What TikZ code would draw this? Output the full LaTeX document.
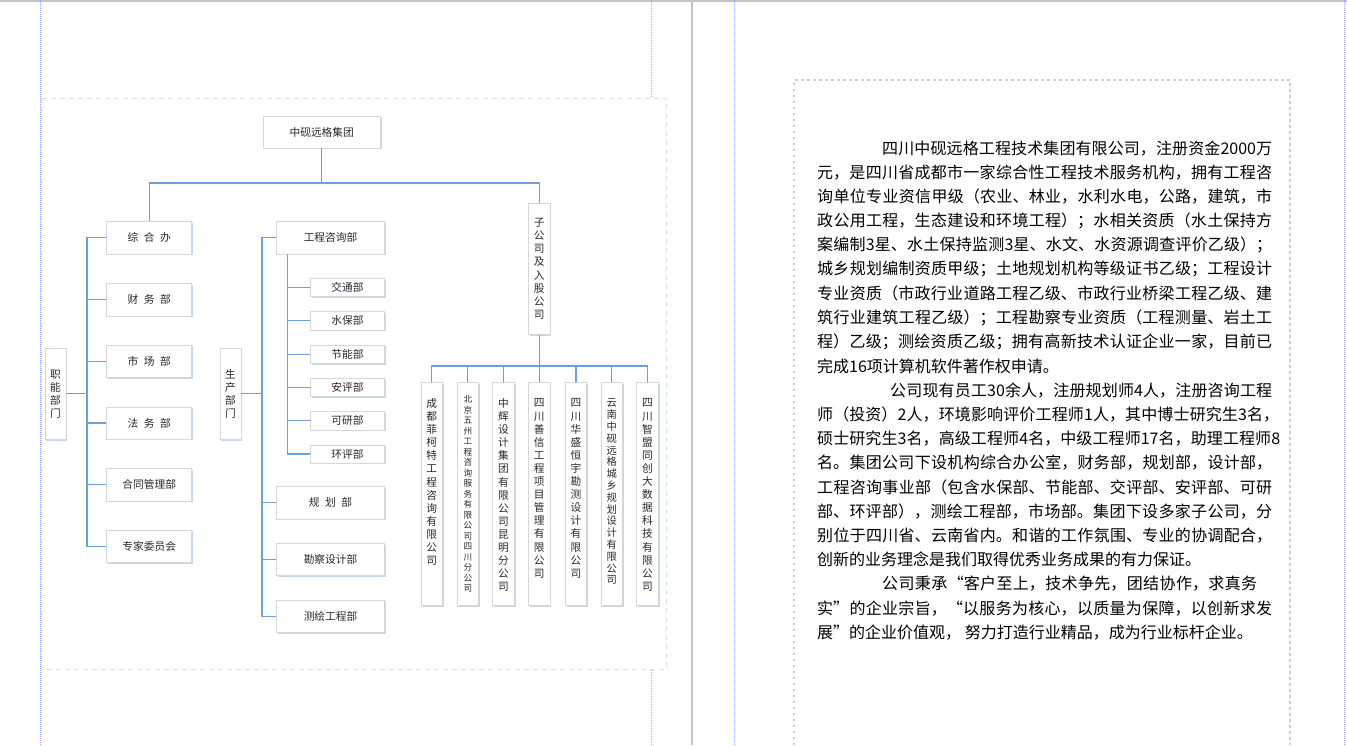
\documentclass[tikz,border=0pt]{standalone}
\usepackage{fontspec}
\setmainfont{Noto Sans CJK SC}
\usetikzlibrary{shadows}
\definecolor{linkc}{RGB}{108,160,220}
\definecolor{boxline}{RGB}{212,215,220}
\definecolor{shadowc}{RGB}{200,214,234}
\definecolor{labelc}{RGB}{40,40,40}
\definecolor{guidec}{RGB}{140,170,245}
\definecolor{framec}{RGB}{218,224,232}
\definecolor{tframec}{RGB}{190,208,240}
\definecolor{pagec}{RGB}{195,195,195}
\newcommand\jl[2]{\parbox{#1}{\XeTeXlinebreaklocale "zh"\XeTeXlinebreakskip=0pt plus 1fil\relax\parindent=0pt\parfillskip=0pt\relax #2}}
\newcommand\vfont[2]{\fontsize{#1}{#2}\selectfont\lineskiplimit=-100pt\lineskip=0pt\relax}
\begin{document}
\begin{tikzpicture}[x=1pt, y=-1pt,
  conn/.style={draw=linkc, line width=1.1pt},
  orgbox/.style={draw=boxline, fill=white, line width=0.7pt, inner sep=0pt,
    drop shadow={shadow xshift=1.3pt, shadow yshift=-1.3pt, fill=shadowc, opacity=1},
    text=labelc, font=\fontsize{10.7}{13}\selectfont},
  widebox/.style={orgbox, minimum width=85pt, minimum height=32.3pt},
  deptbox/.style={orgbox, minimum width=107.6pt, minimum height=32.3pt},
  subbox/.style={orgbox, minimum width=73.6pt, minimum height=18.3pt},
  tallbox/.style={orgbox, minimum width=21pt, minimum height=91pt, align=center, font=\vfont{10.7}{13}},
  compbox/.style={orgbox, minimum width=21.4pt, minimum height=223.2pt},
  vlab/.style={inner sep=0pt, align=center, text=labelc, anchor=center, font=\vfont{10.7}{13.1}},
  para/.style={inner sep=0pt, anchor=west, font=\fontsize{16}{18}\selectfont, text=black},
  guide/.style={draw=guidec, line width=0.8pt, dash pattern=on 1pt off 1pt},
]
\useasboundingbox (0,0) rectangle (1347,745);
\fill[white] (0,0) rectangle (1347,745);
% page decorations
\draw[draw=pagec, line width=1.5pt] (0,0.75) -- (1347,0.75);
\draw[draw=pagec, line width=1.2pt] (692,0) -- (692,745);
\draw[guide] (40,0) -- (40,745);
\draw[guide] (651,0) -- (651,745);
\draw[guide] (734,0) -- (734,745);
\draw[guide] (1344,0) -- (1344,745);
\draw[draw=framec, line width=0.9pt, dash pattern=on 5pt off 4pt, fill=white] (41.7,98) rectangle (666,669);
\draw[draw=tframec, line width=1.1pt, dash pattern=on 2.5pt off 3.5pt] (794,745) -- (794,80) -- (1290,80) -- (1290,745);

% org chart nodes
\node[orgbox, minimum width=117pt, minimum height=32pt] (top) at (321.7,132) {中砚远格集团};

\node[widebox] (zhb) at (149.2,237.8) {综\hspace{5.5pt}合\hspace{5.5pt}办};
\node[widebox] (cw) at (149.2,299.7) {财\hspace{5.5pt}务\hspace{5.5pt}部};
\node[widebox] (scd) at (149.2,361.3) {市\hspace{5.5pt}场\hspace{5.5pt}部};
\node[widebox] (fw) at (149.2,423) {法\hspace{5.5pt}务\hspace{5.5pt}部};
\node[widebox] (ht) at (149.2,484.7) {合同管理部};
\node[widebox] (zj) at (149.2,546.3) {专家委员会};
\node[tallbox] (zn) at (55.5,393.8) {职\\能\\部\\门};
\node[tallbox] (scb) at (230.5,393.8) {生\\产\\部\\门};

\node[deptbox] (gz) at (330.5,237.8) {工程咨询部};
\node[subbox] (jt) at (347.5,287.5) {交通部};
\node[subbox] (sb) at (347.5,320.8) {水保部};
\node[subbox] (jn) at (347.5,354.2) {节能部};
\node[subbox] (ap) at (347.5,387.5) {安评部};
\node[subbox] (ky) at (347.5,420.8) {可研部};
\node[subbox] (hp) at (347.5,454) {环评部};
\node[deptbox] (gh) at (330.5,502.8) {规\hspace{5.5pt}划\hspace{5.5pt}部};
\node[deptbox] (kc) at (330.5,559.5) {勘察设计部};
\node[deptbox] (ch) at (330.5,616.3) {测绘工程部};

\node[orgbox, minimum width=21.7pt, minimum height=131pt, align=center, font=\vfont{10.7}{13.2}] (zgs) at (539.2,268.8) {子\\公\\司\\及\\入\\股\\公\\司};

\node[compbox] (c1) at (431.7,494.1) {};
\node[compbox] (c2) at (467.8,494.1) {};
\node[compbox] (c3) at (503.5,494.1) {};
\node[compbox] (c4) at (539.2,494.1) {};
\node[compbox] (c5) at (576,494.1) {};
\node[compbox] (c6) at (611.7,494.1) {};
\node[compbox] (c7) at (647.5,494.1) {};
\node[vlab] (c1t) at (431.7,481.9) {成\\都\\菲\\柯\\特\\工\\程\\咨\\询\\有\\限\\公\\司};
\node[vlab, font=\vfont{8.6}{10.5}] (c2t) at (467.8,493.8) {北\\京\\五\\州\\工\\程\\咨\\询\\服\\务\\有\\限\\公\\司\\四\\川\\分\\公\\司};
\node[vlab] (c3t) at (503.5,495) {中\\辉\\设\\计\\集\\团\\有\\限\\公\\司\\昆\\明\\分\\公\\司};
\node[vlab] (c4t) at (539.2,488.5) {四\\川\\善\\信\\工\\程\\项\\目\\管\\理\\有\\限\\公\\司};
\node[vlab] (c5t) at (576,488.5) {四\\川\\华\\盛\\恒\\宇\\勘\\测\\设\\计\\有\\限\\公\\司};
\node[vlab, font=\vfont{10.3}{11.8}] (c6t) at (611.7,491.8) {云\\南\\中\\砚\\远\\格\\城\\乡\\规\\划\\设\\计\\有\\限\\公\\司};
\node[vlab] (c7t) at (647.5,495) {四\\川\\智\\盟\\同\\创\\大\\数\\据\\科\\技\\有\\限\\公\\司};

% connectors
\coordinate (j0) at (321.7,183);
\coordinate (ls) at (87,0);
\coordinate (ps) at (262,0);
\coordinate (ss) at (287.3,0);
\coordinate (j1) at (539.2,366);
\draw[conn] (top.south) -- (j0) -| (zhb.north);
\draw[conn] (j0) -| (zgs.north);
\draw[conn] (zhb.west) -- (zhb.west -| ls) -- (zj.west -| ls) -- (zj.west);
\foreach \n in {cw,scd,fw,ht} \draw[conn] (\n.west) -- (\n.west -| ls);
\draw[conn] (zn.east) -- (zn.east -| ls);
\draw[conn] (gz.west) -- (gz.west -| ps) -- (ch.west -| ps) -- (ch.west);
\foreach \n in {gh,kc} \draw[conn] (\n.west) -- (\n.west -| ps);
\draw[conn] (scb.east) -- (scb.east -| ps);
\draw[conn] (gz.south -| ss) -- (hp.west -| ss) -- (hp.west);
\foreach \n in {jt,sb,jn,ap,ky} \draw[conn] (\n.west) -- (\n.west -| ss);
\draw[conn] (zgs.south) -- (j1);
\foreach \n in {c1,c2,c3,c4,c5,c6,c7} \draw[conn] (j1) -| (\n.north);

% description text
\node[para] (p1) at (882,148.3) {\jl{390pt}{四川中砚远格工程技术集团有限公司，注册资金2000万}};
\node[para] (p2) at (817,172.5) {\jl{455pt}{元，是四川省成都市一家综合性工程技术服务机构，拥有工程咨}};
\node[para] (p3) at (817,196.7) {\jl{455pt}{询单位专业资信甲级（农业、林业，水利水电，公路，建筑，市}};
\node[para] (p4) at (817,220.9) {\jl{455pt}{政公用工程，生态建设和环境工程）；水相关资质（水土保持方}};
\node[para] (p5) at (817,245.1) {\jl{455pt}{案编制3星、水土保持监测3星、水文、水资源调查评价乙级）；}};
\node[para] (p6) at (817,269.3) {\jl{455pt}{城乡规划编制资质甲级；土地规划机构等级证书乙级；工程设计}};
\node[para] (p7) at (817,293.5) {\jl{455pt}{专业资质（市政行业道路工程乙级、市政行业桥梁工程乙级、建}};
\node[para] (p8) at (817,317.7) {\jl{455pt}{筑行业建筑工程乙级）；工程勘察专业资质（工程测量、岩土工}};
\node[para] (p9) at (817,341.9) {\jl{455pt}{程）乙级；测绘资质乙级；拥有高新技术认证企业一家，目前已}};
\node[para] (p10) at (817,366.1) {完成16项计算机软件著作权申请。};
\node[para] (p11) at (890,390.3) {\jl{382pt}{公司现有员工30余人，注册规划师4人，注册咨询工程}};
\node[para] (p12) at (817,414.5) {\jl{462pt}{师（投资）2人，环境影响评价工程师1人，其中博士研究生3名，}};
\node[para] (p13) at (817,438.7) {\jl{463pt}{硕士研究生3名，高级工程师4名，中级工程师17名，助理工程师8}};
\node[para] (p14) at (817,462.9) {\jl{455pt}{名。集团公司下设机构综合办公室，财务部，规划部，设计部，}};
\node[para] (p15) at (817,487.1) {\jl{455pt}{工程咨询事业部（包含水保部、节能部、交评部、安评部、可研}};
\node[para] (p16) at (817,511.3) {\jl{455pt}{部、环评部），测绘工程部，市场部。集团下设多家子公司，分}};
\node[para] (p17) at (817,535.5) {\jl{455pt}{别位于四川省、云南省内。和谐的工作氛围、专业的协调配合，}};
\node[para] (p18) at (817,559.7) {创新的业务理念是我们取得优秀业务成果的有力保证。};
\node[para] (p19) at (882,583.9) {\jl{375pt}{公司秉承“客户至上，技术争先，团结协作，求真务}};
\node[para] (p20) at (817,608.1) {\jl{455pt}{实”的企业宗旨，“以服务为核心，以质量为保障，以创新求发}};
\node[para] (p21) at (817,632.3) {展”的企业价值观， 努力打造行业精品，成为行业标杆企业。};
\end{tikzpicture}
\end{document}
